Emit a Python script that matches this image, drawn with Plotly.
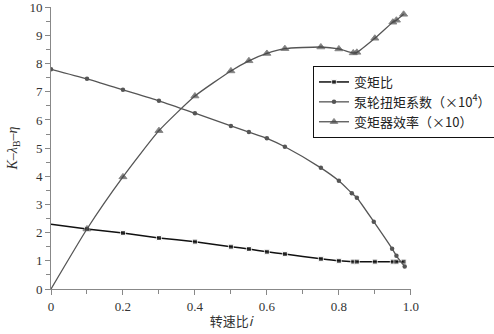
import plotly.graph_objects as go

# Torque ratio K
k_x = [0, 0.1, 0.2, 0.3, 0.4, 0.5, 0.55, 0.6, 0.65, 0.75, 0.8, 0.84, 0.85, 0.9, 0.95, 0.96, 0.98]
k_y = [2.3, 2.13, 1.99, 1.81, 1.68, 1.5, 1.42, 1.32, 1.24, 1.07, 1.0, 0.97, 0.97, 0.97, 0.97, 0.97, 0.97]
k_marker = [False] + [True] * 16

# Pump torque coefficient (x10^4)
p_x = [0, 0.1, 0.2, 0.3, 0.4, 0.5, 0.55, 0.6, 0.65, 0.75, 0.8, 0.836, 0.85, 0.897, 0.948, 0.96, 0.983]
p_y = [7.8, 7.46, 7.07, 6.68, 6.24, 5.79, 5.57, 5.35, 5.05, 4.3, 3.84, 3.4, 3.24, 2.39, 1.43, 1.18, 0.8]

# Converter efficiency (x10)
e_x = [0, 0.1, 0.2, 0.3, 0.4, 0.5, 0.55, 0.6, 0.65, 0.75, 0.8, 0.84, 0.85, 0.9, 0.95, 0.96, 0.98]
e_y = [0, 2.13, 3.98, 5.62, 6.85, 7.74, 8.1, 8.36, 8.53, 8.59, 8.52, 8.38, 8.4, 8.9, 9.47, 9.54, 9.75]

x_ticks = [0, 0.2, 0.4, 0.6, 0.8, 1.0]
x_tick_text = ["0", "0.2", "0.4", "0.6", "0.8", "1.0"]
y_ticks = list(range(0, 11))

names = ["变矩比", "泵轮扭矩系数（×10<sup>4</sup>）", "变矩器效率（×10）"]

fig = go.Figure()
fig.add_trace(go.Scatter(
    x=k_x, y=k_y, name=names[0], mode="lines+markers",
    line=dict(color="#111111", width=1.5, shape="spline", smoothing=0.4),
    marker=dict(symbol="square", size=[0 if not m else 5 for m in k_marker], color="#111111"),
))
fig.add_trace(go.Scatter(
    x=p_x, y=p_y, name=names[1], mode="lines+markers",
    line=dict(color="#555555", width=1.3, shape="spline", smoothing=0.6),
    marker=dict(symbol="circle", size=4.5, color="#555555"),
))
fig.add_trace(go.Scatter(
    x=e_x, y=e_y, name=names[2], mode="lines+markers",
    line=dict(color="#555555", width=1.3, shape="spline", smoothing=0.5),
    marker=dict(symbol="triangle-up", size=[0] + [7] * 16, color="#444444"),
))

serif = "Liberation Serif, Times New Roman, serif"
cjk = "Noto Sans CJK SC, " + serif
fig.update_layout(
    width=494, height=334,
    margin=dict(l=51, r=83, t=7, b=45, autoexpand=False),
    paper_bgcolor="white", plot_bgcolor="white",
    font=dict(family=serif, size=13, color="#222222"),
    showlegend=True,
    legend=dict(
        xref="container", yref="container",
        x=313 / 494, y=1 - 66 / 334, xanchor="left", yanchor="top",
        bordercolor="#111111", borderwidth=1, bgcolor="white",
        font=dict(family=cjk, size=13, color="#222222"),
        tracegroupgap=0, itemwidth=30,
    ),
    xaxis=dict(
        range=[0, 1.0005], tickvals=x_ticks, ticktext=x_tick_text,
        ticklabeloverflow="allow",
        showgrid=False, zeroline=False, showline=True, linecolor="#888888", linewidth=1,
        ticks="outside", ticklen=5, tickcolor="#888888",
        minor=dict(ticks="outside", ticklen=4, tickvals=[0.1, 0.3, 0.5, 0.7, 0.9], tickcolor="#888888"),
        tickfont=dict(family=serif, size=13, color="#333333"),
        title=dict(text="转速比<i>i</i>", font=dict(family=cjk, size=13, color="#333333"), standoff=4),
    ),
    yaxis=dict(
        range=[0, 10.01], tickvals=y_ticks, ticktext=[str(v) for v in y_ticks],
        ticklabeloverflow="allow",
        showgrid=False, zeroline=False, showline=True, linecolor="#888888", linewidth=1,
        ticks="outside", ticklen=5, tickcolor="#888888",
        minor=dict(ticks="outside", ticklen=4, tickvals=[v + 0.5 for v in range(10)], tickcolor="#888888"),
        tickfont=dict(family=serif, size=13, color="#333333"),
        title=dict(text="<i>K</i>–<i>λ</i><sub>B</sub>–<i>η</i>", font=dict(family=serif, size=14, color="#333333"), standoff=8),
    ),
)

fig.write_html("out.html")
